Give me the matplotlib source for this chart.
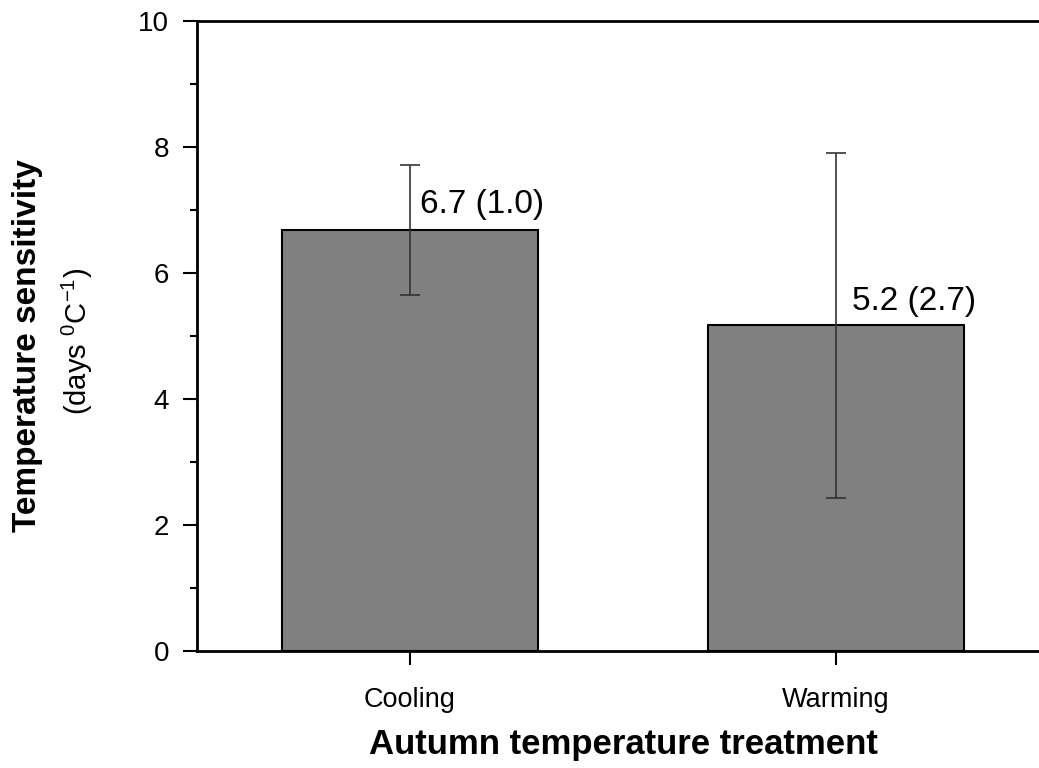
import matplotlib
matplotlib.use("Agg")
import matplotlib.pyplot as plt

plt.rcParams['font.family'] = ['Liberation Sans', 'DejaVu Sans']
plt.rcParams['mathtext.fontset'] = 'custom'
plt.rcParams['mathtext.rm'] = 'Liberation Sans'
plt.rcParams['mathtext.it'] = 'Liberation Sans'

categories = ['Cooling', 'Warming']
means = [6.68, 5.17]
errors = [1.03, 2.74]
labels = ['6.7 (1.0)', '5.2 (2.7)']
yticks = [0, 2, 4, 6, 8, 10]

fig = plt.figure(figsize=(10.39, 7.68), dpi=100)
ax = fig.add_axes([197/1039, 117/768, 852/1039, 630/768])

x = [1, 2]
ax.bar(x, means, width=0.6, color='#808080', edgecolor='black', linewidth=1.5, zorder=2)
ax.errorbar(x, means, yerr=errors, fmt='none', ecolor='#333333', elinewidth=1.2,
            capsize=7, capthick=1.2, zorder=3)

label_y = [7.08, 5.54]
label_dx = [0.024, 0.038]
for xi, ly, dx, t in zip(x, label_y, label_dx, labels):
    ax.text(xi + dx, ly, t, fontsize=24, ha='left', va='center', zorder=4)

ax.set_xlim(0.5, 2.5)
ax.set_ylim(0, 10)
ax.set_xticks(x)
ax.set_xticklabels(categories, fontsize=19.5)
ax.set_yticks(yticks)
ax.set_yticklabels([str(v) for v in yticks], fontsize=20)
ax.set_yticks([1, 3, 5, 7, 9], minor=True)

ax.tick_params(axis='both', which='major', direction='out', length=10, width=1.5, pad=10)
ax.tick_params(axis='y', which='minor', direction='out', length=5, width=1.5)
ax.tick_params(axis='x', which='major', pad=16)
for s in ax.spines.values():
    s.set_linewidth(2)

ax.set_xlabel('Autumn temperature treatment', fontsize=25, fontweight='bold', labelpad=11)

fig.text(28/1039, 1 - 346/768, 'Temperature sensitivity', rotation=90, fontsize=24,
         fontweight='bold', ha='center', va='center')
fig.text(77/1039, 1 - 341/768, r'(days $^{\mathregular{0}}$C$^{\mathregular{-1}}$)', rotation=90,
         fontsize=21, ha='center', va='center')

fig.savefig('out.png', dpi=100)
